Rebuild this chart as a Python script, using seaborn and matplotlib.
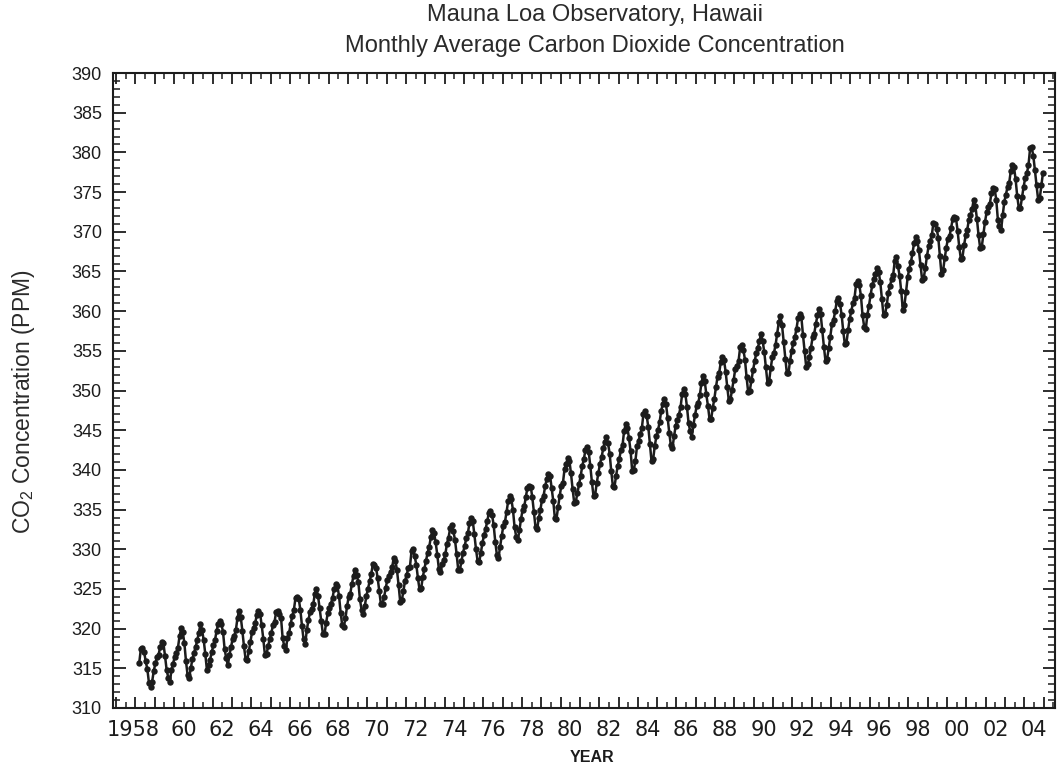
import matplotlib
matplotlib.use("Agg")
import numpy as np
import pandas as pd
import matplotlib.pyplot as plt
import seaborn as sns
from matplotlib.ticker import MultipleLocator, FixedLocator, FuncFormatter, NullFormatter
from matplotlib.transforms import ScaledTranslation

# ---------------- data (monthly mean CO2, ppm; series starts March 1958) ----------------
start_year = 1958
start_month = 3

co2_1958_1959 = [315.71, 317.45, 317.50, 317.10, 315.86, 314.93, 313.20, 312.66, 313.33, 314.67,
                 315.62, 316.38, 316.71, 317.72, 318.29, 318.15, 316.54, 314.80, 313.84, 313.26, 314.80, 315.58]
co2_1960s = [316.43, 316.97, 317.58, 319.02, 320.03, 319.59, 318.18, 315.91, 314.16, 313.83, 315.00, 316.19,
             316.93, 317.70, 318.54, 319.48, 320.58, 319.77, 318.57, 316.79, 314.80, 315.38, 316.10, 317.01,
             317.94, 318.56, 319.68, 320.63, 321.01, 320.55, 319.58, 317.40, 316.26, 315.42, 316.69, 317.69,
             318.74, 319.08, 319.86, 321.39, 322.25, 321.47, 319.74, 317.77, 316.21, 315.99, 317.12, 318.31,
             319.57, 320.07, 320.73, 321.77, 322.25, 321.89, 320.44, 318.70, 316.70, 316.79, 317.79, 318.71,
             319.44, 320.44, 320.89, 322.13, 322.16, 321.87, 321.39, 318.81, 317.81, 317.30, 318.87, 319.42,
             320.62, 321.59, 322.39, 323.87, 324.01, 323.75, 322.39, 320.37, 318.64, 318.10, 319.79, 321.08,
             322.07, 322.50, 323.04, 324.42, 325.00, 324.09, 322.55, 320.92, 319.31, 319.31, 320.72, 321.96,
             322.57, 323.15, 323.89, 325.02, 325.57, 325.36, 324.14, 322.03, 320.41, 320.25, 321.31, 322.84,
             324.00, 324.42, 325.64, 326.66, 327.38, 326.70, 325.89, 323.67, 322.38, 321.78, 322.85, 324.11]
co2_1970s = [325.03, 325.99, 326.87, 328.13, 328.07, 327.66, 326.35, 324.69, 323.10, 323.16, 323.98, 325.13,
             326.17, 326.68, 327.18, 327.78, 328.92, 328.57, 327.34, 325.46, 323.36, 323.57, 324.80, 326.01,
             326.77, 327.63, 327.75, 329.72, 330.07, 329.09, 328.05, 326.32, 324.93, 325.06, 326.50, 327.55,
             328.54, 329.56, 330.30, 331.50, 332.48, 332.07, 330.87, 329.31, 327.51, 327.18, 328.16, 328.64,
             329.35, 330.71, 331.48, 332.65, 333.09, 332.25, 331.18, 329.40, 327.43, 327.37, 328.46, 329.57,
             330.40, 331.40, 332.04, 333.31, 333.96, 333.59, 331.91, 330.06, 328.56, 328.34, 329.49, 330.76,
             331.75, 332.56, 333.50, 334.58, 334.87, 334.34, 333.05, 330.94, 329.30, 328.94, 330.31, 331.68,
             332.93, 333.42, 334.70, 336.07, 336.74, 336.27, 334.93, 332.75, 331.58, 331.16, 332.40, 333.85,
             334.97, 335.39, 336.64, 337.76, 338.01, 337.89, 336.54, 334.68, 332.76, 332.54, 333.92, 334.95,
             336.23, 336.76, 337.96, 338.89, 339.47, 339.29, 337.73, 336.09, 333.91, 333.86, 335.29, 336.73]
co2_1980s = [338.01, 338.36, 340.08, 340.77, 341.46, 341.17, 339.56, 337.60, 335.88, 336.01, 337.10, 338.21,
             339.23, 340.47, 341.38, 342.51, 342.91, 342.25, 340.49, 338.43, 336.69, 336.85, 338.36, 339.61,
             340.75, 341.61, 342.70, 343.56, 344.13, 343.35, 342.06, 339.82, 337.97, 337.86, 339.26, 340.49,
             341.38, 342.52, 343.10, 344.94, 345.75, 345.32, 343.99, 342.39, 339.86, 339.99, 341.16, 342.99,
             343.70, 344.51, 345.28, 347.08, 347.43, 346.79, 345.40, 343.28, 341.07, 341.35, 342.98, 344.22,
             344.97, 345.99, 347.42, 348.35, 348.93, 348.25, 346.56, 344.69, 343.09, 342.80, 344.24, 345.56,
             346.29, 346.96, 347.86, 349.55, 350.21, 349.55, 347.94, 345.90, 344.85, 344.17, 345.66, 346.90,
             348.02, 348.47, 349.42, 350.99, 351.84, 351.25, 349.52, 348.10, 346.44, 346.36, 347.81, 348.96,
             350.43, 351.72, 352.22, 353.59, 354.22, 353.79, 352.39, 350.44, 348.72, 348.88, 350.07, 351.34,
             352.76, 353.07, 353.68, 355.42, 355.67, 355.13, 353.90, 351.67, 349.80, 349.99, 351.30, 352.53]
co2_1990s = [353.66, 354.70, 355.39, 356.20, 357.16, 356.22, 354.82, 352.91, 350.96, 351.18, 352.83, 354.21,
             354.72, 355.75, 357.16, 358.60, 359.34, 358.24, 356.17, 354.03, 352.16, 352.21, 353.75, 354.99,
             355.98, 356.72, 357.81, 359.15, 359.66, 359.25, 357.03, 355.00, 353.01, 353.31, 354.16, 355.40,
             356.70, 357.17, 358.38, 359.46, 360.28, 359.60, 357.57, 355.52, 353.70, 353.98, 355.33, 356.80,
             358.36, 358.91, 359.97, 361.26, 361.68, 360.95, 359.55, 357.49, 355.84, 356.00, 357.58, 359.04,
             359.97, 361.00, 361.64, 363.45, 363.79, 363.26, 361.90, 359.46, 358.06, 357.75, 359.56, 360.70,
             362.05, 363.25, 364.03, 364.72, 365.41, 364.97, 363.65, 361.49, 359.46, 359.60, 360.76, 362.33,
             363.18, 363.99, 364.56, 366.36, 366.80, 365.63, 364.47, 362.50, 360.19, 360.78, 362.43, 364.28,
             365.33, 366.15, 367.31, 368.61, 369.29, 368.87, 367.64, 365.77, 363.90, 364.23, 365.46, 366.97,
             368.15, 368.87, 369.59, 371.14, 371.00, 370.35, 369.27, 366.94, 364.63, 365.12, 366.67, 368.01]
co2_2000s = [369.14, 369.46, 370.52, 371.66, 371.82, 371.70, 370.12, 368.12, 366.62, 366.73, 368.29, 369.53,
             370.28, 371.50, 372.12, 372.87, 374.02, 373.30, 371.62, 369.55, 367.96, 368.09, 369.68, 371.24,
             372.44, 373.08, 373.52, 374.85, 375.55, 375.40, 374.02, 371.49, 370.71, 370.25, 372.08, 373.78,
             374.68, 375.63, 376.11, 377.65, 378.35, 378.13, 376.62, 374.50, 372.99, 373.00, 374.35, 375.70,
             376.79, 377.36, 378.39, 380.50, 380.62, 379.55, 377.76, 375.83, 374.05, 374.22, 375.84, 377.44]

x_label_years = [1958, 1960, 1962, 1964, 1966, 1968, 1970, 1972, 1974, 1976, 1978, 1980,
                 1982, 1984, 1986, 1988, 1990, 1992, 1994, 1996, 1998, 2000, 2002, 2004]
x_label_texts = ["1958", "60", "62", "64", "66", "68", "70", "72", "74", "76", "78", "80",
                 "82", "84", "86", "88", "90", "92", "94", "96", "98", "00", "02", "04"]

title_lines = ["Mauna Loa Observatory, Hawaii", "Monthly Average Carbon Dioxide Concentration"]

# ---------------- build frame ----------------
values = co2_1958_1959 + co2_1960s + co2_1970s + co2_1980s + co2_1990s + co2_2000s
month_index = np.arange(len(values)) + (start_month - 1)
decimal_year = start_year + (month_index + 0.5) / 12.0
df = pd.DataFrame({"year": decimal_year, "co2": values})

# ---------------- style ----------------
sns.set_style("ticks")
plt.rcParams["font.family"] = ["Liberation Sans", "DejaVu Sans"]
plt.rcParams["mathtext.fontset"] = "custom"
plt.rcParams["mathtext.rm"] = "Liberation Sans"
plt.rcParams["mathtext.it"] = "Liberation Sans:italic"

W, H = 1057, 766
fig = plt.figure(figsize=(W / 100, H / 100), dpi=100)
fig.patch.set_facecolor("white")
ax = fig.add_axes([113 / W, 1 - 708 / H, (1055 - 113) / W, (708 - 73) / H])

ink = "#1c1c1c"
sns.lineplot(data=df, x="year", y="co2", ax=ax, color=ink, linewidth=1.8,
             marker="o", markersize=4.6, markeredgewidth=0, markerfacecolor=ink,
             estimator=None)

ax.set_xlim(1956.85, 2005.58)
ax.set_ylim(310, 390)
ax.set_xlabel("")
ax.set_ylabel("")

for s in ax.spines.values():
    s.set_visible(True)
    s.set_color(ink)
    s.set_linewidth(1.5)

# x ticks: long at year boundaries, short at mid-year; labels at mid-year of even years
label_map = dict(zip(x_label_years, x_label_texts))
ax.xaxis.set_major_locator(MultipleLocator(1))
ax.xaxis.set_major_formatter(NullFormatter())
ax.xaxis.set_minor_locator(FixedLocator([y + 0.5 for y in range(1956, 2006)]))
ax.xaxis.set_minor_formatter(FuncFormatter(lambda v, p: label_map.get(int(round(v - 0.5)), "")))
ax.tick_params(axis="x", which="major", direction="in", length=8, width=1.3,
               top=True, bottom=True, color=ink)
ax.tick_params(axis="x", which="minor", direction="in", length=4, width=1.1,
               top=True, bottom=True, color=ink, labelsize=15, pad=9, labelcolor=ink)

ax.yaxis.set_major_locator(MultipleLocator(5))
ax.yaxis.set_minor_locator(MultipleLocator(1))
ax.tick_params(axis="y", which="major", direction="in", length=9, width=1.3,
               left=True, right=True, color=ink, labelsize=13, pad=8, labelcolor=ink)
ax.tick_params(axis="y", which="minor", direction="in", length=5, width=1.1,
               left=True, right=True, color=ink)

for lbl in ax.get_xticklabels(minor=True):
    lbl.set_fontfamily("DejaVu Sans")
    if lbl.get_text() == "1958":
        lbl.set_transform(lbl.get_transform() + ScaledTranslation(-0.12, 0, fig.dpi_scale_trans))

# titles and axis labels
fig.text(595 / W, 1 - 15 / H, title_lines[0], ha="center", va="center",
         fontsize=17, color="#2a2a2a")
fig.text(595 / W, 1 - 46 / H, title_lines[1], ha="center", va="center",
         fontsize=17, color="#2a2a2a")
fig.text(24 / W, 1 - 402 / H, r"CO$_{\mathregular{2}}$ Concentration (PPM)", rotation=90,
         ha="center", va="center", fontsize=16.5, color="#2a2a2a")
fig.text(592 / W, 1 - 757 / H, "YEAR", ha="center", va="center", fontsize=11.5,
         fontweight="bold", color=ink)

fig.savefig("out.png", dpi=100, facecolor="white")
